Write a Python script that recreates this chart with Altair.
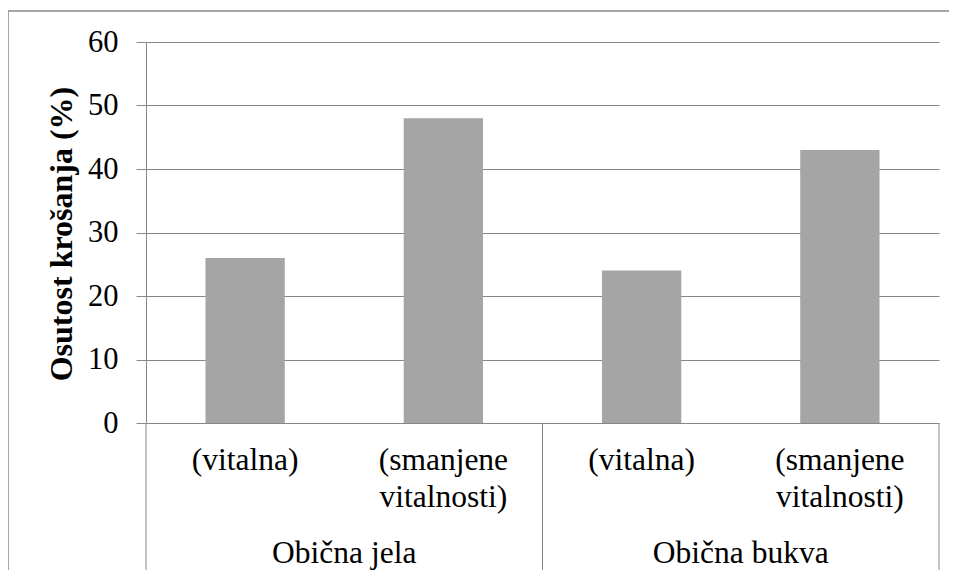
import altair as alt
import pandas as pd

# ---- data ----
groups = ["Obična jela", "Obična bukva"]
subcats = ["(vitalna)", "(smanjene\nvitalnosti)"]
values = [26, 48, 24, 43]
y_ticks = [0, 10, 20, 30, 40, 50, 60]
y_title = "Osutost krošanja (%)"

rows = []
for gi, g in enumerate(groups):
    for si, s in enumerate(subcats):
        i = gi * len(subcats) + si
        rows.append({"group": g, "sub": s, "value": values[i],
                     "pos": i + 0.5, "x0": i + 0.3, "x1": i + 0.7})
bars_df = pd.DataFrame(rows)
n = len(rows)
grp_df = pd.DataFrame({"group": groups,
                       "pos": [len(subcats) * (k + 0.5) for k in range(len(groups))]})
sep_df = pd.DataFrame({"b": [len(subcats) * k for k in range(len(groups) + 1)]})

W, H = 793, 381
FONT = "Liberation Serif"
GRID = "#868686"
BAR = "#A5A5A5"

xs = alt.Scale(domain=[0, n], nice=False, zero=False)
ys = alt.Scale(domain=[0, 60], nice=False)

bars = alt.Chart(bars_df).mark_rect(color=BAR).encode(
    x=alt.X("x0:Q", scale=xs, axis=None),
    x2="x1",
    y=alt.Y("value:Q", scale=ys, axis=alt.Axis(
        values=y_ticks, grid=True, gridColor=GRID, gridWidth=1,
        domain=True, domainColor=GRID, ticks=True, tickColor=GRID, tickSize=10,
        labelFont=FONT, labelFontSize=30.5, labelColor="black", labelPadding=18,
        title=y_title, titleFont=FONT, titleFontSize=32, titleFontWeight="bold",
        titleColor="black", titleAngle=270, titleX=-75, titleY=H / 2 + 1,
        titleAlign="center", titleBaseline="alphabetic")),
    y2=alt.datum(0),
)

sub_labels = alt.Chart(bars_df).mark_text(
    font=FONT, fontSize=31.5, lineBreak="\n", lineHeight=37,
    baseline="alphabetic", align="center", color="black"
).encode(x=alt.X("pos:Q", scale=xs), y=alt.value(428), text="sub:N")

grp_labels = alt.Chart(grp_df).mark_text(
    font=FONT, fontSize=31.5, baseline="alphabetic", align="center", color="black"
).encode(x=alt.X("pos:Q", scale=xs), y=alt.value(521), text="group:N")

seps = alt.Chart(sep_df).mark_rule(color=GRID, strokeWidth=1).encode(
    x=alt.X("b:Q", scale=xs), y=alt.value(H), y2=alt.value(H + 170))

border_left = alt.Chart(sep_df.head(1)).mark_rule(color="#888888", strokeWidth=1.5).encode(
    x=alt.value(-138), y=alt.value(-31), y2=alt.value(H + 200))
border_top = alt.Chart(sep_df.head(1)).mark_rule(color="#888888", strokeWidth=1.5).encode(
    x=alt.value(-138), x2=alt.value(W + 40), y=alt.value(-31))

chart = alt.layer(bars, sub_labels, grp_labels, seps, border_left, border_top).properties(
    width=W, height=H,
    autosize=alt.AutoSizeParams(type="none"),
    padding={"left": 138, "top": 34, "right": 10, "bottom": 147},
    background="white",
).configure_view(stroke=None)

chart.save("out.html", embed_options={"renderer": "svg", "actions": False})
